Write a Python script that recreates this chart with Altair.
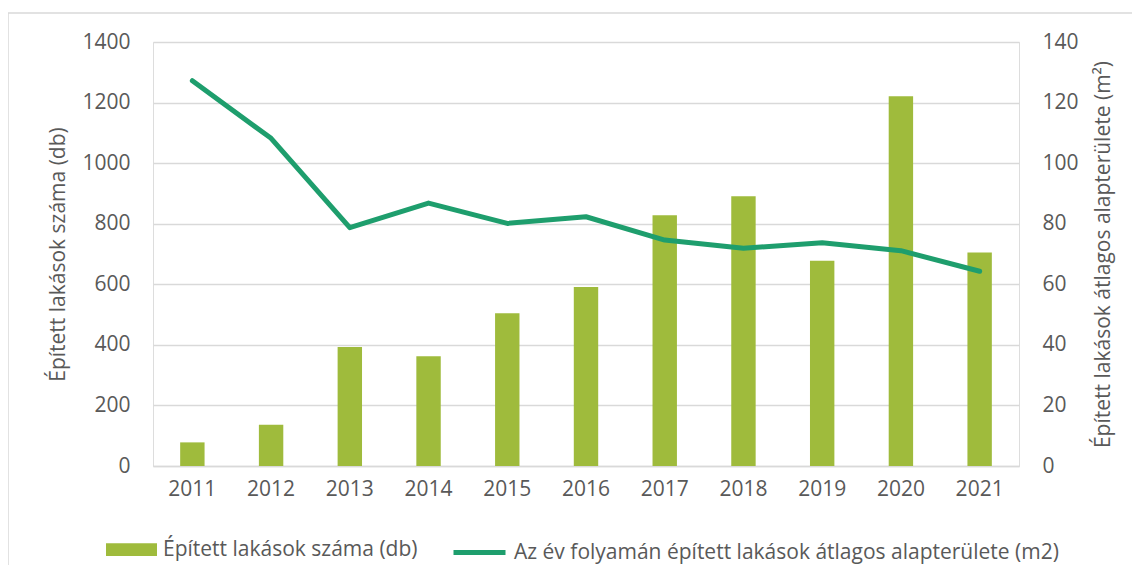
import altair as alt
import pandas as pd

years = ["2011", "2012", "2013", "2014", "2015", "2016", "2017", "2018", "2019", "2020", "2021"]
counts = [78, 136, 393, 362, 504, 591, 828, 891, 678, 1221, 705]
areas = [127.2, 108.2, 78.7, 86.8, 80.1, 82.3, 74.6, 71.9, 73.7, 71.1, 64.3]

bar_name = "Épített lakások száma (db)"
line_name = "Az év folyamán épített lakások átlagos alapterülete (m2)"
left_title = "Épített lakások száma (db)"
right_title = "Épített lakások átlagos alapterülete (m²)"

BAR_COLOR = "#9FBB3C"
LINE_COLOR = "#1E9E6D"
TEXT = "#595959"
GRID = "#D9D9D9"
FONT = "Open Sans"
TICK_FS = 21
TITLE_FS = 21
LEG_FS = 21

df = pd.DataFrame({"year": years, "count": counts, "area": areas,
                   "s1": [bar_name] * len(years), "s2": [line_name] * len(years)})

x_enc = alt.X("year:N", title=None,
              scale=alt.Scale(paddingInner=0.69, paddingOuter=0.345),
              axis=alt.Axis(labelAngle=0, labelFontSize=TICK_FS, labelColor=TEXT, labelFont=FONT,
                            ticks=False, domain=True, domainColor=GRID, domainWidth=1.5,
                            labelPadding=12, grid=False))

bars = alt.Chart(df).mark_bar(color=BAR_COLOR).encode(
    x=x_enc,
    y=alt.Y("count:Q", title=left_title,
            scale=alt.Scale(domain=[0, 1400]),
            axis=alt.Axis(values=[0, 200, 400, 600, 800, 1000, 1200, 1400], orient="left", format="d",
                          labelFontSize=TICK_FS, labelColor=TEXT, labelFont=FONT, labelPadding=23,
                          ticks=False, domain=False, grid=True, gridColor=GRID, gridWidth=1.5,
                          titleFontSize=TITLE_FS, titleFont=FONT, titleColor=TEXT, titleFontWeight="normal",
                          titleX=-95, titleY=212, titleAngle=270, titleAlign="center",
                          titleBaseline="middle")),
    fill=alt.Fill("s1:N", scale=alt.Scale(domain=[bar_name], range=[BAR_COLOR]),
                  legend=alt.Legend(title=None, orient="none", legendX=-47, legendY=482,
                                    symbolType="M-1,-0.25L1,-0.25L1,0.25L-1,0.25Z",
                                    symbolSize=2601, symbolStrokeWidth=0, labelLimit=800,
                                    labelFontSize=LEG_FS, labelFont=FONT, labelColor=TEXT,
                                    labelOffset=6, padding=0)),
)

line = alt.Chart(df).mark_line(color=LINE_COLOR, strokeWidth=5, strokeCap="round", strokeJoin="round").encode(
    x="year:N",
    y=alt.Y("area:Q", title=right_title,
            scale=alt.Scale(domain=[0, 140]),
            axis=alt.Axis(values=[0, 20, 40, 60, 80, 100, 120, 140], orient="right", format="d",
                          labelFontSize=TICK_FS, labelColor=TEXT, labelFont=FONT, labelPadding=23,
                          ticks=False, domain=False, grid=False,
                          titleFontSize=TITLE_FS, titleFont=FONT, titleColor=TEXT, titleFontWeight="normal",
                          titleX=84, titleY=212, titleAngle=270, titleAlign="center",
                          titleBaseline="middle")),
    stroke=alt.Stroke("s2:N", scale=alt.Scale(domain=[line_name], range=[LINE_COLOR]),
                      legend=alt.Legend(title=None, orient="none", legendX=298, legendY=482,
                                        symbolType="M-1,0L1,0", symbolSize=2704,
                                        symbolStrokeWidth=5, labelLimit=800,
                                        labelFontSize=LEG_FS, labelFont=FONT, labelColor=TEXT,
                                        labelOffset=6, padding=0)),
)

border = alt.Chart(pd.DataFrame({"b": [0]})).mark_rect(fill=None, stroke=GRID, strokeWidth=1.5).encode(
    x=alt.value(-145), x2=alt.value(1000), y=alt.value(-29), y2=alt.value(600)
)

chart = alt.layer(border, bars, line).resolve_scale(y="independent").properties(
    width=866, height=424,
    padding={"left": 145, "top": 34, "right": 113, "bottom": 99},
    autosize=alt.AutoSizeParams(type="none"),
).configure_view(stroke=None).configure(background="white")

chart.save("out.html", embed_options={"renderer": "svg", "actions": False})
